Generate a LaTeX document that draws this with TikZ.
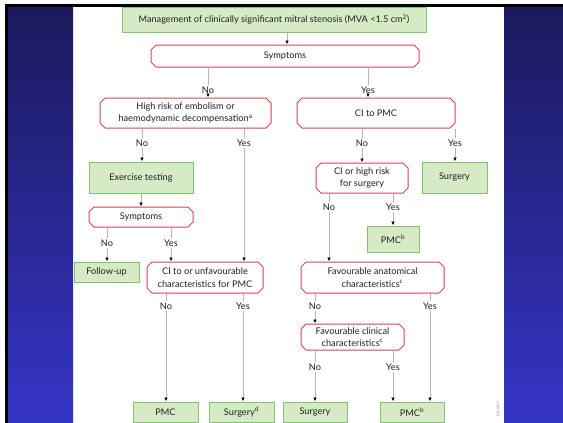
\documentclass[tikz,border=0pt]{standalone}
\usepackage{fontspec}
\setmainfont{Lato}
\usetikzlibrary{shapes.misc,arrows.meta}

\definecolor{boxgreen}{HTML}{D6EBC5}
\definecolor{edgegreen}{HTML}{84C46C}
\definecolor{askred}{HTML}{D8434F}
\definecolor{linegray}{HTML}{B4B4B4}
\definecolor{inkgray}{HTML}{231F20}
\definecolor{navytop}{HTML}{1B195C}
\definecolor{bluebot}{HTML}{3535C6}

\tikzset{
    action/.style = {draw=edgegreen, fill=boxgreen, line width=1pt, align=center,
        inner sep=0pt, text=inkgray, font=\fontsize{9.2}{12.5}\selectfont},
    query/.style = {chamfered rectangle, chamfered rectangle xsep=2.5pt,
        chamfered rectangle ysep=2.5pt, draw=askred, fill=white, line width=1pt,
        align=center, inner sep=0pt, text=inkgray, font=\fontsize{9.2}{12.5}\selectfont},
    answer/.style = {fill=white, inner sep=1.5pt, text=inkgray,
        font=\fontsize{9.2}{10}\selectfont},
    link/.style = {draw=linegray, line width=0.9pt},
    flow/.style = {link, -{Latex[length=4pt, width=3.5pt, black]}}
}

\begin{document}
\begin{tikzpicture}[x = 1pt, y = -1pt]
            \useasboundingbox (0, 0) rectangle (563, 423);

            % frame of the slide
            \shade[top color=navytop, bottom color=bluebot] (8, 5) rectangle (73, 423);
            \shade[top color=navytop, bottom color=bluebot] (504, 5) rectangle (563, 423);
            \fill[black] (5, 4) rectangle (563, 7);
            \fill[black] (5, 4) rectangle (8, 423);
            \node[rotate=90, text=gray, font=\fontsize{3.5}{4}\selectfont, inner sep=0pt] (esc) at (498, 409) {ESC 2017};

            % boxes
            \node[action, minimum width=304, minimum height=25] (mgmt) at (274, 19.5) {Management of clinically significant mitral stenosis (MVA <1.5 cm\textsuperscript{2})};
            \node[query, minimum width=268, minimum height=22] (sym1) at (285, 56) {Symptoms};
            \node[query, minimum width=171, minimum height=30] (risk) at (185.5, 113) {High risk of embolism or\\haemodynamic decompensation\textsuperscript{a}};
            \node[query, minimum width=158, minimum height=30] (ci) at (376, 113) {CI to PMC};
            \node[action, minimum width=104, minimum height=31] (ex) at (141, 177.5) {Exercise testing};
            \node[query, minimum width=104, minimum height=20] (sym2) at (141, 217) {Symptoms};
            \node[query, minimum width=92, minimum height=30] (cihigh) at (362, 178) {CI or high risk\\for surgery};
            \node[action, minimum width=65, minimum height=31] (surg1) at (454.5, 177.5) {Surgery};
            \node[action, minimum width=52, minimum height=26] (pmcb1) at (393, 239) {PMC\textsuperscript{b}};
            \node[action, minimum width=65, minimum height=20] (follow) at (106.5, 272) {Follow-up};
            \node[query, minimum width=116, minimum height=31] (ciunf) at (205, 277.5) {CI to or unfavourable\\characteristics for PMC};
            \node[query, minimum width=143, minimum height=31] (favanat) at (372.5, 277.5) {Favourable anatomical\\characteristics\textsuperscript{c}};
            \node[query, minimum width=103, minimum height=26] (favclin) at (352.5, 337) {Favourable clinical\\characteristics\textsuperscript{c}};
            \node[action, minimum width=65, minimum height=20] (pmc) at (165.5, 412) {PMC};
            \node[action, minimum width=65, minimum height=20] (surgd) at (241.5, 412) {Surgery\textsuperscript{d}};
            \node[action, minimum width=64, minimum height=20] (surg2) at (315, 412) {Surgery};
            \node[action, minimum width=64, minimum height=20] (pmcb2) at (412, 412) {PMC\textsuperscript{b}};

            % answers
            \node[answer] (a1) at (208, 90) {No};
            \node[answer] (a2) at (368, 90) {Yes};
            \node[answer] (a3) at (142, 143) {No};
            \node[answer] (a4) at (244, 143) {Yes};
            \node[answer] (a5) at (362, 143) {No};
            \node[answer] (a6) at (455, 143) {Yes};
            \node[answer] (a7) at (329, 207) {No};
            \node[answer] (a8) at (393, 207) {Yes};
            \node[answer] (a9) at (107, 243) {No};
            \node[answer] (a10) at (171, 243) {Yes};
            \node[answer] (a11) at (166, 306) {No};
            \node[answer] (a12) at (243, 306) {Yes};
            \node[answer] (a13) at (315, 306) {No};
            \node[answer] (a14) at (430, 306) {Yes};
            \node[answer] (a15) at (315, 367) {No};
            \node[answer] (a16) at (393, 367) {Yes};

            % connectors
            \draw[flow] (mgmt.south -| 287, 0) -- (sym1.north -| 287, 0);
            \draw[flow] (ex.south) -- (sym2.north);

            \draw[link] (a1 |- sym1.south) -- (a1);
            \draw[flow] (a1) -- (a1 |- risk.north);
            \draw[link] (a2 |- sym1.south) -- (a2);
            \draw[flow] (a2) -- (a2 |- ci.north);
            \draw[link] (a3 |- risk.south) -- (a3);
            \draw[flow] (a3) -- (a3 |- ex.north);
            \draw[link] (a4 |- risk.south) -- (a4);
            \draw[flow] (a4) -- (a4 |- ciunf.north);
            \draw[link] (a5 |- ci.south) -- (a5);
            \draw[flow] (a5) -- (a5 |- cihigh.north);
            \draw[link] (a6 |- ci.south) -- (a6);
            \draw[flow] (a6) -- (a6 |- surg1.north);
            \draw[link] (a7 |- cihigh.south) -- (a7);
            \draw[flow] (a7) -- (a7 |- favanat.north);
            \draw[link] (a8 |- cihigh.south) -- (a8);
            \draw[flow] (a8) -- (a8 |- pmcb1.north);
            \draw[link] (a9 |- sym2.south) -- (a9);
            \draw[flow] (a9) -- (a9 |- follow.north);
            \draw[link] (a10 |- sym2.south) -- (a10);
            \draw[flow] (a10) -- (a10 |- ciunf.north);
            \draw[link] (a11 |- ciunf.south) -- (a11);
            \draw[flow] (a11) -- (a11 |- pmc.north);
            \draw[link] (a12 |- ciunf.south) -- (a12);
            \draw[flow] (a12) -- (a12 |- surgd.north);
            \draw[link] (a13 |- favanat.south) -- (a13);
            \draw[flow] (a13) -- (a13 |- favclin.north);
            \draw[link] (a14 |- favanat.south) -- (a14);
            \draw[flow] (a14) -- (a14 |- pmcb2.north);
            \draw[link] (a15 |- favclin.south) -- (a15);
            \draw[flow] (a15) -- (a15 |- surg2.north);
            \draw[link] (a16 |- favclin.south) -- (a16);
            \draw[flow] (a16) -- (a16 |- pmcb2.north);

        \end{tikzpicture}
\end{document}
